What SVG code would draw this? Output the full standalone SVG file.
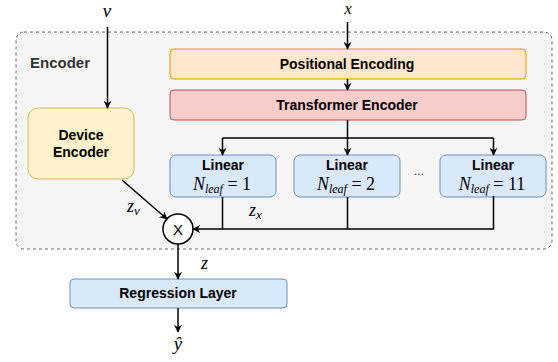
<svg xmlns="http://www.w3.org/2000/svg" width="558" height="362" viewBox="0 0 558 362">
<style>
.lbl{font-family:"Liberation Sans",Arial,sans-serif;font-weight:bold;font-size:14px;fill:#000;text-anchor:middle}
.math{font-family:"Liberation Serif","Times New Roman",serif;font-style:italic;fill:#000}
.up{font-style:normal}
.edge{fill:none;stroke:#000;stroke-width:1.5}
</style>
<defs>
<marker id="ah" viewBox="0 0 10 10" refX="9" refY="5" markerWidth="8" markerHeight="8" orient="auto" markerUnits="userSpaceOnUse">
<path d="M0,0 L10,5 L0,10 L3,5 z" fill="#000"/>
</marker>
</defs>
<rect width="558" height="362" fill="#fff"/>
<g id="encoder-group">
<rect x="16" y="32" width="536" height="217" rx="8" fill="#f5f5f5" stroke="#666" stroke-width="1" stroke-dasharray="3 3"/>
<text x="30" y="68" font-family="Liberation Sans,Arial,sans-serif" font-weight="bold" font-size="15" fill="#333">Encoder</text>
</g>
<g id="positional-encoding">
<rect x="170" y="49" width="356" height="30" rx="4" fill="#ffe6cc" stroke="#d79b00"/>
<text class="lbl" x="347" y="69">Positional Encoding</text>
</g>
<g id="transformer-encoder">
<rect x="170" y="90" width="356" height="30" rx="4" fill="#f8cecc" stroke="#b85450"/>
<text class="lbl" x="347" y="110">Transformer Encoder</text>
</g>
<g id="device-encoder">
<rect x="28" y="108" width="106" height="71" rx="10" fill="#fff2cc" stroke="#d6b656"/>
<text class="lbl" x="81" y="140">Device</text>
<text class="lbl" x="81" y="157">Encoder</text>
</g>
<g id="linear-1">
<rect x="170" y="155" width="106" height="42" rx="6" fill="#dae8fc" stroke="#6c8ebf"/>
<text class="lbl" x="223" y="170">Linear</text>
<text class="math" x="222" y="190" text-anchor="middle" font-size="18">N<tspan font-size="12" dy="3">leaf</tspan><tspan class="up" dy="-3"> = 1</tspan></text>
</g>
<g id="linear-2">
<rect x="294" y="155" width="106" height="42" rx="6" fill="#dae8fc" stroke="#6c8ebf"/>
<text class="lbl" x="347" y="170">Linear</text>
<text class="math" x="346" y="190" text-anchor="middle" font-size="18">N<tspan font-size="12" dy="3">leaf</tspan><tspan class="up" dy="-3"> = 2</tspan></text>
</g>
<g id="linear-11">
<rect x="440" y="155" width="106" height="42" rx="6" fill="#dae8fc" stroke="#6c8ebf"/>
<text class="lbl" x="493" y="170">Linear</text>
<text class="math" x="492" y="190" text-anchor="middle" font-size="18">N<tspan font-size="12" dy="3">leaf</tspan><tspan class="up" dy="-3"> = 11</tspan></text>
</g>
<g id="dots">
<text x="419" y="175" font-family="Liberation Sans,Arial,sans-serif" font-size="12" fill="#333" text-anchor="middle">...</text>
</g>
<g id="multiply">
<circle cx="178" cy="229" r="15" fill="#fff" stroke="#000" stroke-width="1.5"/>
<text x="178" y="235" font-family="Liberation Sans,Arial,sans-serif" font-size="15" text-anchor="middle">X</text>
</g>
<g id="regression-layer">
<rect x="70" y="279" width="217" height="29" rx="4" fill="#dae8fc" stroke="#6c8ebf"/>
<text class="lbl" x="178" y="298">Regression Layer</text>
</g>
<g id="connectors">
<path class="edge" d="M107.5,27 V108" marker-end="url(#ah)"/>
<path class="edge" d="M347.5,22 V49" marker-end="url(#ah)"/>
<path class="edge" d="M347.5,79 V90" marker-end="url(#ah)"/>
<path class="edge" d="M347.5,120 V138"/>
<path class="edge" d="M222.5,138 H493.5"/>
<path class="edge" d="M222.5,138 V155" marker-end="url(#ah)"/>
<path class="edge" d="M347.5,138 V155" marker-end="url(#ah)"/>
<path class="edge" d="M493.5,138 V155" marker-end="url(#ah)"/>
<path class="edge" d="M222.5,197 V229"/>
<path class="edge" d="M347.5,197 V229"/>
<path class="edge" d="M493.5,196 V229 H193" stroke-width="2" marker-end="url(#ah)"/>
<path class="edge" d="M122,180 L167,219" marker-end="url(#ah)"/>
<path class="edge" d="M178,244 V279" marker-end="url(#ah)"/>
<path class="edge" d="M178,308 V332" marker-end="url(#ah)"/>
</g>
<g id="labels">
<text class="math" x="107" y="17" font-size="19" text-anchor="middle">v</text>
<text class="math" x="348" y="14" font-size="16" text-anchor="middle">x</text>
<text class="math" x="127" y="212" font-size="18">z<tspan font-size="13" dy="3">v</tspan></text>
<text class="math" x="249" y="216" font-size="18">z<tspan font-size="13" dy="3">x</tspan></text>
<text class="math" x="201" y="269" font-size="18">z</text>
<text class="math" x="178" y="350" font-size="19" text-anchor="middle">ŷ</text>
</g>
</svg>
